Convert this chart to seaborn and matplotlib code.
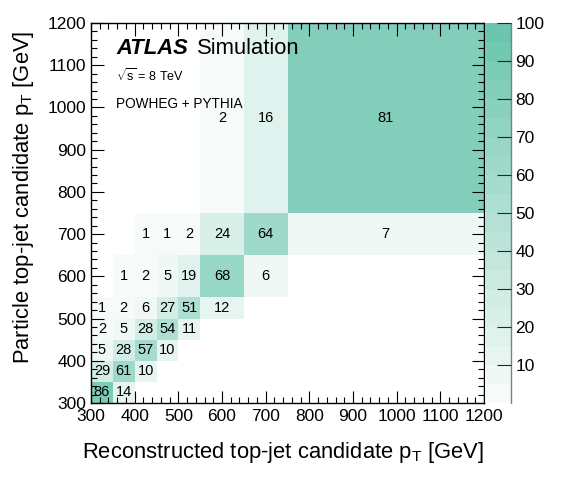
import numpy as np
import matplotlib
matplotlib.use("Agg")
import matplotlib.pyplot as plt
from matplotlib.colors import ListedColormap, BoundaryNorm
from matplotlib.ticker import MultipleLocator
import seaborn as sns

# bin edges (GeV), same binning on both axes
reco_edges = [300, 350, 400, 450, 500, 550, 650, 750, 1200]
part_edges = [300, 350, 400, 450, 500, 550, 650, 750, 1200]

# migration matrix in %, rows = particle bins (bottom to top), cols = reco bins
nan = np.nan
row_300 = [86, 14, nan, nan, nan, nan, nan, nan]
row_350 = [29, 61, 10, nan, nan, nan, nan, nan]
row_400 = [5, 28, 57, 10, nan, nan, nan, nan]
row_450 = [2, 5, 28, 54, 11, nan, nan, nan]
row_500 = [1, 2, 6, 27, 51, 12, nan, nan]
row_550 = [nan, 1, 2, 5, 19, 68, 6, nan]
row_650 = [nan, nan, 1, 1, 2, 24, 64, 7]
row_750 = [nan, nan, nan, nan, nan, 2, 16, 81]

cbar_ticks = [10, 20, 30, 40, 50, 60, 70, 80, 90, 100]

matrix = np.array([row_300, row_350, row_400, row_450,
                   row_500, row_550, row_650, row_750])

sns.set_theme(style="ticks")
plt.rcParams['font.family'] = ['Liberation Sans', 'DejaVu Sans']
plt.rcParams['mathtext.fontset'] = 'custom'
plt.rcParams['mathtext.rm'] = 'Liberation Sans'
plt.rcParams['text.color'] = 'black'
plt.rcParams['axes.labelcolor'] = 'black'
plt.rcParams['xtick.color'] = 'black'
plt.rcParams['ytick.color'] = 'black'
plt.rcParams['axes.axisbelow'] = False

# 20-level palette, white-ish to teal
lo = np.array([246, 251, 249]) / 255
hi = np.array([108, 197, 174]) / 255
colors = [lo + (hi - lo) * i / 19 for i in range(20)]
cmap = ListedColormap(colors)
cmap.set_bad("white")
norm = BoundaryNorm(np.arange(0, 105, 5), cmap.N)

fig = plt.figure(figsize=(5.68, 4.8), dpi=100)
ax = fig.add_axes([91 / 568, 77 / 480, 393 / 568, 380 / 480])
cax = fig.add_axes([485 / 568, 77 / 480, 26 / 568, 380 / 480])

mesh = ax.pcolormesh(reco_edges, part_edges, np.ma.masked_invalid(matrix),
                     cmap=cmap, norm=norm)

xc = [(a + b) / 2 for a, b in zip(reco_edges[:-1], reco_edges[1:])]
yc = [(a + b) / 2 for a, b in zip(part_edges[:-1], part_edges[1:])]
for i, y in enumerate(yc):
    for j, x in enumerate(xc):
        v = matrix[i, j]
        if not np.isnan(v):
            ax.text(x, y, f"{v:.0f}", ha="center", va="center",
                    fontsize=10.5, color="black")

ax.set_xlim(300, 1200)
ax.set_ylim(300, 1200)
ax.xaxis.set_major_locator(MultipleLocator(100))
ax.xaxis.set_minor_locator(MultipleLocator(20))
ax.yaxis.set_major_locator(MultipleLocator(100))
ax.yaxis.set_minor_locator(MultipleLocator(20))
ax.tick_params(which="both", direction="in", top=True, right=True,
               labelsize=12.5, color="black", width=0.8)
ax.tick_params(which="major", length=9)
ax.tick_params(which="minor", length=4.5)
ax.tick_params(axis="x", pad=4)
for s in ax.spines.values():
    s.set_color("black")
    s.set_linewidth(1.0)

ax.set_xlabel(r"Reconstructed top-jet candidate $\mathregular{p_T}$ [GeV]",
              fontsize=15.8, loc="right", labelpad=12)
ax.set_ylabel(r"Particle top-jet candidate $\mathregular{p_T}$ [GeV]",
              fontsize=15.8, loc="top")
ax.yaxis.set_label_coords(-0.14, 0.98)

ax.text(0.064, 0.934, "ATLAS", transform=ax.transAxes, fontsize=15.8,
        fontweight="bold", fontstyle="italic", va="center")
ax.text(0.270, 0.934, "Simulation", transform=ax.transAxes, fontsize=15.8,
        va="center")
ax.text(0.064, 0.862, r"$\mathregular{\sqrt{s}}$ = 8 TeV", transform=ax.transAxes,
        fontsize=9, va="center")
ax.text(0.064, 0.787, "POWHEG + PYTHIA", transform=ax.transAxes,
        fontsize=9.8, va="center")

cb = fig.colorbar(mesh, cax=cax, ticks=cbar_ticks)
cb.outline.set_visible(False)
cax.axvline(1, color="0.5", lw=1.0, clip_on=False)
cax.set_axisbelow(False)
cax.tick_params(direction="in", length=10, width=0.8, labelsize=12.5,
                color="0.15", pad=3)
cax.minorticks_off()

fig.savefig("out.png", dpi=100)
